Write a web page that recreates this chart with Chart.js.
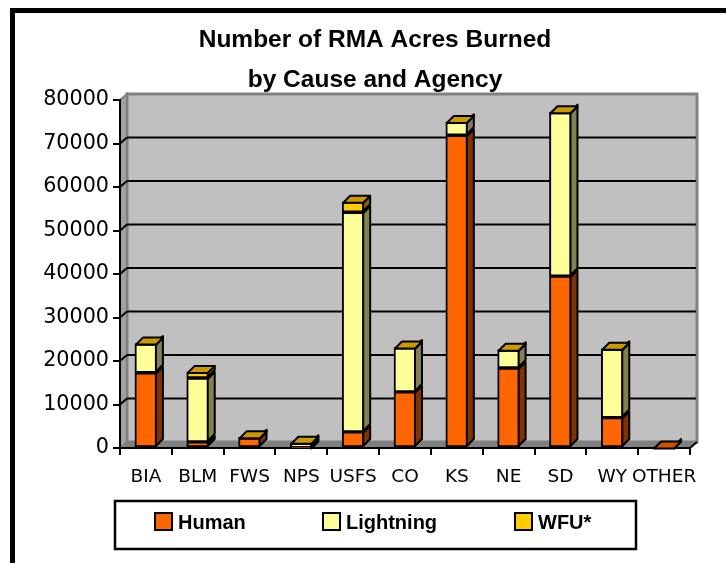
<!DOCTYPE html>
<html>
<head>
<meta charset="utf-8">
<script src="https://cdn.jsdelivr.net/npm/chart.js@4"></script>
<style>
    html, body { margin: 0; background: #fff; }
    #frame {
        position: absolute; left: 10px; top: 8px; right: 0; bottom: 0;
        border-left: 5px solid #000; border-top: 5px solid #000;
    }
    canvas { position: absolute; left: 0; top: 0; }
</style>
</head>
<body>
<div id="frame"></div>
<canvas id="rmaChart" width="726" height="563"></canvas>
<script>
const categories = ['BIA', 'BLM', 'FWS', 'NPS', 'USFS', 'CO', 'KS', 'NE', 'SD', 'WY', 'OTHER'];
const human = [17300, 1400, 2300, 100, 3700, 12900, 71900, 18400, 39500, 7000, 100];
const lightning = [6600, 14700, 50, 1000, 50500, 10100, 3000, 4100, 37600, 15700, 0];
const wfu = [100, 1400, 100, 100, 2400, 100, 50, 100, 100, 100, 0];
const yTicks = [0, 10000, 20000, 30000, 40000, 50000, 60000, 70000, 80000];

const FONT = '"DejaVu Sans", sans-serif';
const BOLD_FONT = '"Liberation Sans", Arial, sans-serif';
const DEPTH = 7;
const WALL_RISE = 6;

// side and top faces for each series
const faces = [
    { side: '#803300', top: '#cc5200' },
    { side: '#808050', top: '#cccc7a' },
    { side: '#806600', top: '#cc9900' }
];

const poly = (ctx, pts, fill, stroke, width) => {
    ctx.beginPath();
    pts.forEach((p, i) => i ? ctx.lineTo(p[0], p[1]) : ctx.moveTo(p[0], p[1]));
    ctx.closePath();
    ctx.fillStyle = fill;
    ctx.fill();
    if (stroke) {
        ctx.strokeStyle = stroke;
        ctx.lineWidth = width;
        ctx.stroke();
    }
};

const line = (ctx, x1, y1, x2, y2, color, width) => {
    ctx.beginPath();
    ctx.moveTo(x1, y1);
    ctx.lineTo(x2, y2);
    ctx.strokeStyle = color;
    ctx.lineWidth = width;
    ctx.stroke();
};

// back wall, left wall, floor and the grid lines
const wallsPlugin = {
    id: 'walls',
    afterLayout(chart) {
        // title sits a little right of the canvas centre
        chart.titleBlock.left = 60;
    },
    beforeDraw(chart) {
        const { ctx, chartArea: a, scales } = chart;
        ctx.save();
        poly(ctx, [[a.left + DEPTH, a.top - WALL_RISE], [a.right + DEPTH, a.top - WALL_RISE],
            [a.right + DEPTH, a.bottom - WALL_RISE], [a.left + DEPTH, a.bottom - WALL_RISE]], '#c0c0c0', '#808080', 3);
        poly(ctx, [[a.left, a.top], [a.left + DEPTH, a.top - WALL_RISE],
            [a.left + DEPTH, a.bottom - WALL_RISE], [a.left, a.bottom]], '#a0a0a0', '#808080', 2);
        poly(ctx, [[a.left, a.bottom], [a.left + DEPTH, a.bottom - WALL_RISE],
            [a.right + DEPTH, a.bottom - WALL_RISE], [a.right, a.bottom]], '#808080');
        yTicks.slice(1, -1).forEach(v => {
            const y = scales.y.getPixelForValue(v);
            line(ctx, a.left, y, a.left + DEPTH, y - WALL_RISE, '#000', 2);
            line(ctx, a.left + DEPTH, y - WALL_RISE, a.right + DEPTH - 1, y - WALL_RISE, '#000', 2);
        });
        line(ctx, a.right, a.bottom, a.right + DEPTH, a.bottom - WALL_RISE, '#000', 2);
        ctx.restore();
    }
};

// extrudes the library's bars backwards to get the 3D look
const extrudePlugin = {
    id: 'extrude',
    afterDatasetsDraw(chart) {
        const ctx = chart.ctx;
        ctx.save();
        ctx.lineJoin = 'round';
        categories.forEach((_, i) => {
            let topBar = null;
            let topIndex = 0;
            chart.data.datasets.forEach((ds, d) => {
                if (!ds.data[i]) return;
                const bar = chart.getDatasetMeta(d).data[i].getProps(['x', 'y', 'base', 'width'], true);
                const r = bar.x + bar.width / 2 - 1;
                poly(ctx, [[r, bar.y + 1], [r + DEPTH, bar.y + 1 - DEPTH],
                    [r + DEPTH, bar.base - 1 - DEPTH], [r, bar.base - 1]], faces[d].side, '#000', 2);
                topBar = bar;
                topIndex = d;
            });
            if (topBar) {
                const l = topBar.x - topBar.width / 2 + 1;
                const r = topBar.x + topBar.width / 2 - 1;
                const y = topBar.y + 1;
                poly(ctx, [[l, y], [l + DEPTH, y - DEPTH], [r + DEPTH, y - DEPTH], [r, y]],
                    faces[topIndex].top, '#000', 2);
            }
        });
        ctx.restore();
    }
};

// boxed legend under the plot, spaced wider than the built-in one allows
const legendPlugin = {
    id: 'boxLegend',
    afterDraw(chart) {
        const ctx = chart.ctx;
        const swatchX = [155, 323, 515];
        ctx.save();
        ctx.strokeStyle = '#000';
        ctx.lineWidth = 2.5;
        ctx.strokeRect(115, 501, 521, 48);
        ctx.textBaseline = 'middle';
        ctx.font = 'bold 20px ' + BOLD_FONT;
        chart.data.datasets.forEach((ds, d) => {
            ctx.fillStyle = ds.backgroundColor;
            ctx.fillRect(swatchX[d], 513, 17, 17);
            ctx.lineWidth = 2;
            ctx.strokeRect(swatchX[d], 513, 17, 17);
            ctx.fillStyle = '#000';
            ctx.fillText(ds.label, swatchX[d] + 23, 523);
        });
        ctx.restore();
    }
};

const series = [
    { label: 'Human', data: human, backgroundColor: '#ff6600' },
    { label: 'Lightning', data: lightning, backgroundColor: '#ffff99' },
    { label: 'WFU*', data: wfu, backgroundColor: '#ffcc00' }
];

new Chart(document.getElementById('rmaChart'), {
    type: 'bar',
    data: {
        labels: categories,
        datasets: series.map(s => ({
            ...s,
            borderColor: '#000',
            borderWidth: 2,
            borderSkipped: false,
            barThickness: 22
        }))
    },
    plugins: [wallsPlugin, extrudePlugin, legendPlugin],
    options: {
        responsive: false,
        animation: false,
        layout: { padding: { left: 0, right: 36, bottom: 65 } },
        plugins: {
            legend: { display: false },
            tooltip: { enabled: false },
            title: {
                display: true,
                text: ['Number of RMA Acres Burned', 'by Cause and Agency'],
                color: '#000',
                font: { family: BOLD_FONT, size: 24.5, weight: 'bold', lineHeight: 1.6 },
                padding: { top: 21, bottom: 0.6 }
            }
        },
        scales: {
            x: {
                stacked: true,
                afterFit: scale => { scale.height = 50; },
                grid: { drawOnChartArea: false, color: '#000', tickColor: '#000', lineWidth: 2, tickLength: 7 },
                border: { color: '#000', width: 2 },
                ticks: { color: '#000', font: { family: FONT, size: 18.5 }, padding: 11, maxRotation: 0, autoSkip: false }
            },
            y: {
                stacked: true,
                min: 0,
                max: 80000,
                afterBuildTicks: scale => { scale.ticks = yTicks.map(value => ({ value })); },
                afterFit: scale => { scale.width = 120; },
                grid: { drawOnChartArea: false, color: '#000', tickColor: '#000', lineWidth: 2, tickLength: 7 },
                border: { color: '#000', width: 2 },
                ticks: { color: '#000', font: { family: FONT, size: 20.7 }, padding: 4, callback: v => String(v) }
            }
        }
    }
});
</script>
</body>
</html>
